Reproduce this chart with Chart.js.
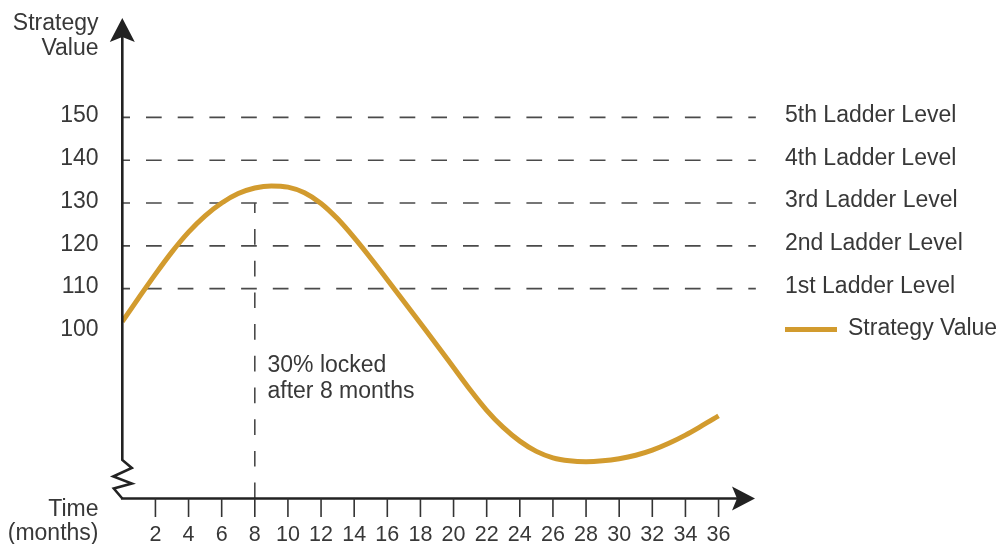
<!DOCTYPE html>
<html>
<head>
<meta charset="utf-8">
<script src="https://cdn.jsdelivr.net/npm/chart.js@4.4.1/dist/chart.umd.min.js"></script>
<style>
  html, body { margin: 0; padding: 0; background: #ffffff; }
  #wrap { width: 998px; height: 544px; position: relative; }
</style>
</head>
<body>
<div id="wrap"><canvas id="chart" width="998" height="544"></canvas></div>
<script>
// Months along the time axis and the strategy value at each month
const months = [0,1,2,3,4,5,6,7,8,9,10,11,12,13,14,15,16,17,18,19,20,21,22,23,24,25,26,27,28,29,30,31,32,33,34,35,36];
const strategyValues = [102.3,107.9,113.4,118.6,123.2,127.0,130.0,132.2,133.5,134.0,133.7,132.4,129.9,126.3,121.9,117.1,112.1,107.0,101.9,96.8,91.6,86.4,81.6,77.6,74.4,72.0,70.5,69.8,69.6,69.8,70.3,71.1,72.3,73.9,75.8,78.0,80.3];

// Ladder levels and their labels
const ladderLevels = [110, 120, 130, 140, 150];
const ladderLabels = ['1st Ladder Level', '2nd Ladder Level', '3rd Ladder Level', '4th Ladder Level', '5th Ladder Level'];

// Axis tick labels
const yTickValues = [100, 110, 120, 130, 140, 150];
const xTickValues = [2, 4, 6, 8, 10, 12, 14, 16, 18, 20, 22, 24, 26, 28, 30, 32, 34, 36];

// Lock-in marker
const lockMonth = 8;
const lockLevel = 130;
const lockText = ['30% locked', 'after 8 months'];

const X_MIN = 0, X_MAX = 38.2;
const Y_MIN = 61.0, Y_MAX = 173.2;

const GOLD = '#D29B2E';
const DASH = '#4a4a4a';
const INK = '#222222';
const TEXT = '#383838';
const FONT = '23px "Liberation Sans", Arial, sans-serif';
const TICK_FONT = '21.5px "Liberation Sans", Arial, sans-serif';

const datasets = [];
datasets.push({
  label: 'Strategy Value',
  data: months.map((m, i) => ({ x: m, y: strategyValues[i] })),
  borderColor: GOLD,
  borderWidth: 5,
  pointRadius: 0,
  cubicInterpolationMode: 'monotone',
  borderCapStyle: 'butt',
  fill: false,
  order: 0
});
ladderLevels.forEach((lvl, i) => {
  datasets.push({
    label: ladderLabels[i],
    data: [{ x: X_MIN, y: lvl }, { x: 38.25, y: lvl }],
    borderColor: DASH,
    borderWidth: 1.6,
    borderDash: [15.7, 16],
    borderDashOffset: 8,
    pointRadius: 0,
    tension: 0,
    fill: false,
    clip: false,
    order: 2
  });
});
datasets.push({
  label: 'lock',
  data: [{ x: lockMonth, y: lockLevel }, { x: lockMonth, y: Y_MIN }],
  borderColor: DASH,
  borderWidth: 1.6,
  borderDash: [15.7, 16],
  borderDashOffset: 5.7,
  pointRadius: 0,
  tension: 0,
  fill: false,
  order: 2
});

// Axes, arrows, break mark, tick labels and text labels
const decorations = {
  id: 'decorations',
  afterDatasetsDraw(chart) {
    const { ctx, scales } = chart;
    const xs = scales.x, ys = scales.y;
    const x0 = xs.getPixelForValue(X_MIN);
    const yBottom = ys.getPixelForValue(Y_MIN);
    const yTop = ys.getPixelForValue(Y_MAX);
    const xRight = xs.getPixelForValue(X_MAX);

    ctx.save();
    ctx.strokeStyle = INK;
    ctx.fillStyle = INK;
    ctx.lineWidth = 2.6;
    ctx.lineJoin = 'miter';

    // vertical axis with break zigzag near the bottom
    ctx.beginPath();
    ctx.moveTo(x0, yTop + 14);
    ctx.lineTo(x0, yBottom - 38.5);
    ctx.lineTo(x0 + 9.5, yBottom - 30.5);
    ctx.lineTo(x0 - 9, yBottom - 22);
    ctx.lineTo(x0 + 9.5, yBottom - 15);
    ctx.lineTo(x0 - 8.5, yBottom - 10);
    ctx.lineTo(x0, yBottom);
    ctx.stroke();

    // horizontal axis
    ctx.beginPath();
    ctx.moveTo(x0 - 1.3, yBottom);
    ctx.lineTo(xRight - 16, yBottom);
    ctx.stroke();

    // arrow heads
    ctx.beginPath();
    ctx.moveTo(x0, yTop);
    ctx.lineTo(x0 + 12.5, yTop + 24);
    ctx.lineTo(x0, yTop + 19);
    ctx.lineTo(x0 - 12.5, yTop + 24);
    ctx.closePath();
    ctx.fill();

    ctx.beginPath();
    ctx.moveTo(xRight, yBottom);
    ctx.lineTo(xRight - 23, yBottom - 12);
    ctx.lineTo(xRight - 18, yBottom);
    ctx.lineTo(xRight - 23, yBottom + 12);
    ctx.closePath();
    ctx.fill();

    // x tick marks
    ctx.lineWidth = 1.6;
    ctx.strokeStyle = '#333333';
    xTickValues.forEach(v => {
      const px = xs.getPixelForValue(v);
      ctx.beginPath();
      ctx.moveTo(px, yBottom);
      ctx.lineTo(px, yBottom + 18.5);
      ctx.stroke();
    });

    // x tick labels
    ctx.fillStyle = TEXT;
    ctx.font = TICK_FONT;
    ctx.textAlign = 'center';
    ctx.textBaseline = 'middle';
    xTickValues.forEach(v => {
      ctx.fillText(String(v), xs.getPixelForValue(v), 535.5);
    });

    // y tick labels
    ctx.font = FONT;
    ctx.textAlign = 'right';
    yTickValues.forEach(v => {
      ctx.fillText(String(v), 98.5, ys.getPixelForValue(v) - 1.5);
    });

    // axis titles
    ctx.fillText('Strategy', 98.5, 23.5);
    ctx.fillText('Value', 98.5, 49);
    ctx.fillText('Time', 98.5, 510);
    ctx.fillText('(months)', 98.5, 534);

    // ladder labels on the right
    ctx.textAlign = 'left';
    ladderLevels.forEach((lvl, i) => {
      ctx.fillText(ladderLabels[i], 785, ys.getPixelForValue(lvl) - 2);
    });

    // legend entry for the curve
    ctx.strokeStyle = GOLD;
    ctx.lineWidth = 5;
    ctx.beginPath();
    ctx.moveTo(785, 329.5);
    ctx.lineTo(837, 329.5);
    ctx.stroke();
    ctx.fillText('Strategy Value', 848, 328.5);

    // lock-in annotation
    ctx.fillText(lockText[0], 267.5, 366);
    ctx.fillText(lockText[1], 267.5, 392);

    ctx.restore();
  }
};

new Chart(document.getElementById('chart'), {
  type: 'line',
  data: { datasets },
  options: {
    responsive: false,
    animation: false,
    events: [],
    layout: { padding: { left: 122.3, right: 243, top: 18, bottom: 45.5 } },
    plugins: { legend: { display: false }, tooltip: { enabled: false }, title: { display: false } },
    scales: {
      x: { type: 'linear', min: X_MIN, max: X_MAX, display: false },
      y: { type: 'linear', min: Y_MIN, max: Y_MAX, display: false }
    }
  },
  plugins: [decorations]
});
</script>
</body>
</html>
